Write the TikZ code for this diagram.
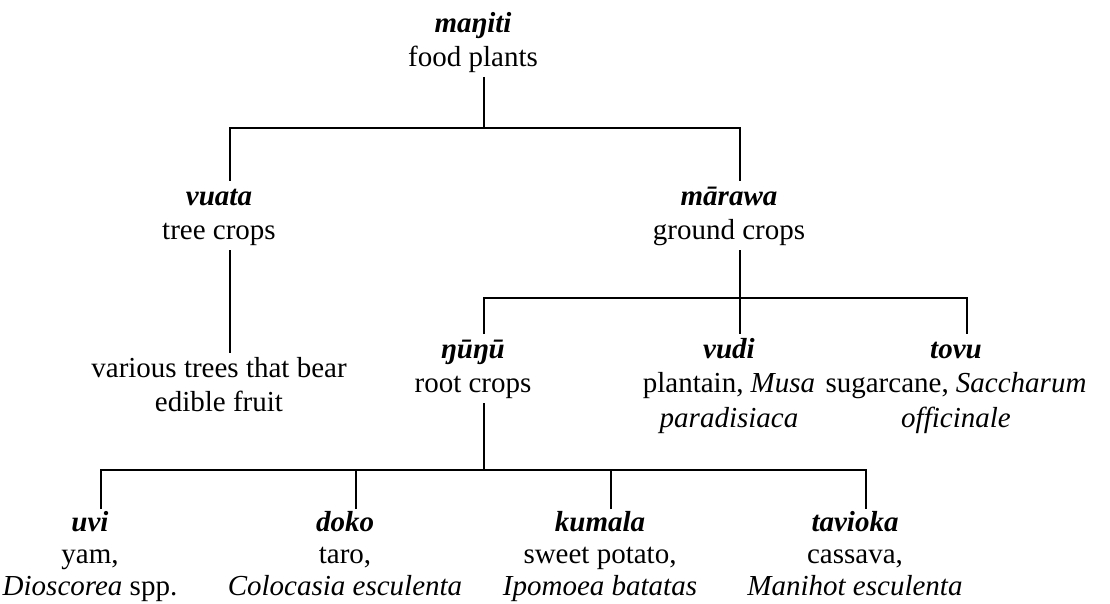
\documentclass[tikz,border=0pt]{standalone}
\usepackage{fontspec}
\setmainfont{Liberation Serif}
\newcommand\hw[1]{\textbf{\textit{#1}}}
\begin{document}
\begin{tikzpicture}[x=1pt,y=-1pt,
  lbl/.style={anchor=north,inner sep=0pt,outer sep=0pt,align=center,
              font=\fontsize{29}{34.5}\selectfont},
  lowlbl/.style={lbl,font=\fontsize{29}{32}\selectfont},
  branch/.style={line width=1.2pt,black}]
\useasboundingbox (0,0) rectangle (1110,604);

% level 0
\node[lbl] (food) at (473,8) {\strut\hw{maŋiti}\\\strut food plants};

% level 1
\node[lbl] (vuata)  at (219,181) {\strut\hw{vuata}\\\strut tree crops};
\node[lbl] (marawa) at (729,181) {\strut\hw{mārawa}\\\strut ground crops};
\node[lbl] (trees)  at (219,353) {\strut various trees that bear\\\strut edible fruit};

% level 2
\node[lbl] (root) at (473,334) {\strut\hw{ŋūŋū}\\\strut root crops};
\node[lbl] (vudi) at (729,334) {\strut\hw{vudi}\\\strut plantain, \textit{Musa}\\\strut\textit{paradisiaca}};
\node[lbl] (tovu) at (956,334) {\strut\hw{tovu}\\\strut sugarcane, \textit{Saccharum}\\\strut\textit{officinale}};

% level 3
\node[lowlbl] (uvi)     at (90,509)  {\strut\hw{uvi}\\\strut yam,\\\strut\textit{Dioscorea} spp.};
\node[lowlbl] (doko)    at (345,509) {\strut\hw{doko}\\\strut taro,\\\strut\textit{Colocasia esculenta}};
\node[lowlbl] (kumala)  at (600,509) {\strut\hw{kumala}\\\strut sweet potato,\\\strut\textit{Ipomoea batatas}};
\node[lowlbl] (tavioka) at (855,509) {\strut\hw{tavioka}\\\strut cassava,\\\strut\textit{Manihot esculenta}};

% junctions of the branches
\coordinate (j1) at (484,128);
\coordinate (j2) at (740,298);
\coordinate (j3) at (484,470);

\begin{scope}[branch]
  \draw ([xshift=11pt]food.south) -- (j1);
  \draw ([xshift=11pt]vuata.north) |- (j1) -| ([xshift=11pt]marawa.north);
  \draw ([xshift=11pt]vuata.south) -- ([xshift=11pt]trees.north);

  \draw ([xshift=11pt]marawa.south) -- (j2);
  \draw ([xshift=11pt]root.north) |- (j2) -| ([xshift=11pt]tovu.north);
  \draw (j2) -- ([xshift=11pt]vudi.north);

  \draw ([xshift=11pt]root.south) -- (j3);
  \draw ([xshift=11pt]uvi.north) |- (j3) -| ([xshift=11pt]tavioka.north);
  \draw ([xshift=11pt]doko.north) -- ([xshift=11pt]doko.north |- j3);
  \draw ([xshift=11pt]kumala.north) -- ([xshift=11pt]kumala.north |- j3);
\end{scope}
\end{tikzpicture}
\end{document}
